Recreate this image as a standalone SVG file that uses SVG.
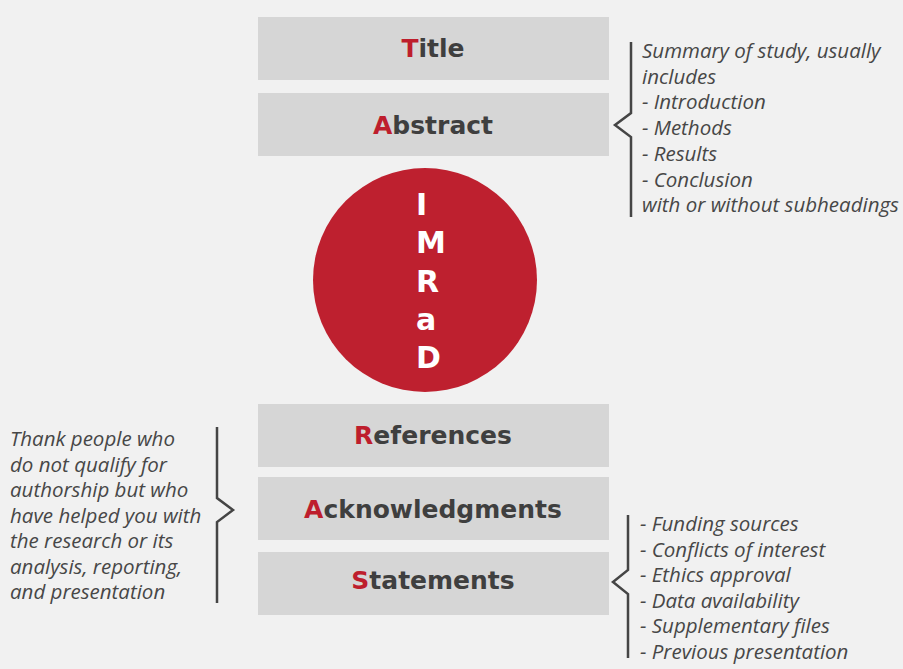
<svg xmlns="http://www.w3.org/2000/svg" width="903" height="669" viewBox="0 0 903 669">
<style>
.bg{fill:#f1f1f1}
.box{fill:#d6d6d6}
.h{font-family:"DejaVu Sans",sans-serif;font-weight:bold;font-size:25px;fill:#3f3f3f;text-anchor:middle}
.r{fill:#be1e2d}
.c{font-family:"DejaVu Sans",sans-serif;font-weight:bold;font-size:30px;fill:#ffffff}
.n{font-family:"Open Sans",sans-serif;font-style:italic;font-size:20.5px;fill:#474747}
.br{fill:none;stroke:#454545;stroke-width:2.5}
</style>
<rect class="bg" x="0" y="0" width="903" height="669"/>
<g id="title"><rect class="box" x="258" y="17" width="351" height="63"/><text class="h" x="433" y="57"><tspan class="r">T</tspan>itle</text></g>
<g id="abstract"><rect class="box" x="258" y="93" width="351" height="63"/><text class="h" x="433" y="134"><tspan class="r">A</tspan>bstract</text></g>
<g id="imrad"><circle cx="425" cy="280" r="112" fill="#be202f"/>
<text class="c" x="416" y="215">I</text>
<text class="c" x="416" y="253">M</text>
<text class="c" x="416" y="292">R</text>
<text class="c" x="416" y="330">a</text>
<text class="c" x="416" y="368">D</text></g>
<g id="references"><rect class="box" x="258" y="404" width="351" height="63"/><text class="h" x="433" y="444"><tspan class="r">R</tspan>eferences</text></g>
<g id="acknowledgments"><rect class="box" x="258" y="477" width="351" height="63"/><text class="h" x="433" y="518"><tspan class="r">A</tspan>cknowledgments</text></g>
<g id="statements"><rect class="box" x="258" y="552" width="351" height="63"/><text class="h" x="433" y="589"><tspan class="r">S</tspan>tatements</text></g>
<g id="connectors">
<path class="br" d="M631,42 V113 L615,125 L631,137 V217"/>
<path class="br" d="M217,427 V498 L233,510 L217,522 V603"/>
<path class="br" d="M628,515 V570 L613,582 L628,594 V658"/>
</g>
<g id="abstract-note"><text class="n">
<tspan x="642" y="58">Summary of study, usually</tspan>
<tspan x="642" y="83.7">includes</tspan>
<tspan x="642" y="109.4">- Introduction</tspan>
<tspan x="642" y="135.1">- Methods</tspan>
<tspan x="642" y="160.8">- Results</tspan>
<tspan x="642" y="186.5">- Conclusion</tspan>
<tspan x="642" y="212.2">with or without subheadings</tspan>
</text></g>
<g id="ack-note"><text class="n">
<tspan x="10" y="446">Thank people who</tspan>
<tspan x="10" y="471.5">do not qualify for</tspan>
<tspan x="10" y="497">authorship but who</tspan>
<tspan x="10" y="522.5">have helped you with</tspan>
<tspan x="10" y="548">the research or its</tspan>
<tspan x="10" y="573.5">analysis, reporting,</tspan>
<tspan x="10" y="599">and presentation</tspan>
</text></g>
<g id="statements-note"><text class="n">
<tspan x="640" y="531">- Funding sources</tspan>
<tspan x="640" y="556.5">- Conflicts of interest</tspan>
<tspan x="640" y="582">- Ethics approval</tspan>
<tspan x="640" y="607.5">- Data availability</tspan>
<tspan x="640" y="633">- Supplementary files</tspan>
<tspan x="640" y="658.5">- Previous presentation</tspan>
</text></g>
</svg>
